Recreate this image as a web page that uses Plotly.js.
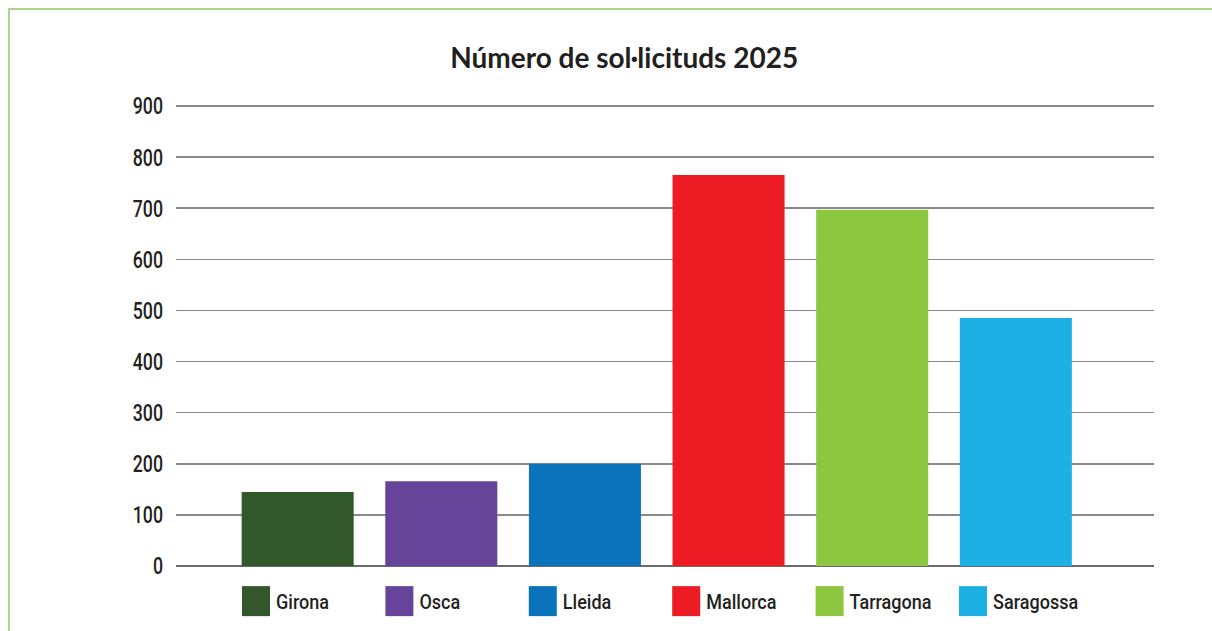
<!DOCTYPE html>
<html>
<head>
<meta charset="utf-8">
<script src="https://cdn.plot.ly/plotly-3.0.1.min.js"></script>
<style>
  html, body { margin: 0; padding: 0; background: #fff; width: 1212px; height: 631px; overflow: hidden; }
  #frame { position: absolute; left: 8px; top: 8px; width: 1204px; height: 623px; border-left: 2px solid #a8d98a; border-top: 2px solid #a8d98a; box-sizing: border-box; }
  #chart { position: absolute; left: 0; top: 0; width: 1212px; height: 631px; }
</style>
</head>
<body>
<div id="frame"></div>
<div id="chart"></div>
<script>
const categories = ["Girona", "Osca", "Lleida", "Mallorca", "Tarragona", "Saragossa"];
const values = [145, 166, 200, 765, 697, 485];
const colors = ["#31572a", "#654499", "#0b73bb", "#ed1c24", "#8dc63f", "#1cb0e4"];
const yTicks = [0, 100, 200, 300, 400, 500, 600, 700, 800, 900];
const titleText = "Número de sol·licituds 2025";

const labelFont = "Roboto, 'Liberation Sans', sans-serif";

const traces = categories.map((c, i) => ({
  type: "bar",
  name: c,
  x: [c],
  y: [values[i]],
  width: 0.78,
  marker: { color: colors[i], line: { width: 0 } },
  hoverinfo: "x+y"
}));

const layout = {
  width: 1212,
  height: 631,
  paper_bgcolor: "rgba(0,0,0,0)",
  plot_bgcolor: "rgba(0,0,0,0)",
  margin: { l: 176, r: 58, t: 105, b: 65, pad: 0, autoexpand: false },
  barmode: "overlay",
  title: {
    text: "<b>" + titleText + "</b>",
    font: { family: "Lato, 'Open Sans', sans-serif", size: 28, color: "#231f20" },
    x: 0.515, xref: "container", xanchor: "center",
    y: 1 - 58 / 631, yref: "container", yanchor: "middle"
  },
  xaxis: {
    type: "category",
    categoryorder: "array",
    categoryarray: categories,
    range: [-0.847, 5.962],
    showticklabels: false,
    showgrid: false,
    zeroline: false,
    showline: false,
    ticks: ""
  },
  yaxis: {
    range: [0, 902],
    tickvals: yTicks,
    ticktext: yTicks.map(String),
    showgrid: true,
    gridcolor: "#8a8a8a",
    gridwidth: 1.5,
    zeroline: true,
    zerolinecolor: "#6a6a6a",
    zerolinewidth: 2,
    showline: false,
    ticks: "",
    ticklabelstandoff: 12,
    tickfont: { family: labelFont, size: 24, color: "#231f20", weight: 500 }
  },
  showlegend: true,
  legend: {
    orientation: "h",
    x: (236 - 176) / 978,
    xanchor: "left",
    y: -0.0325,
    yanchor: "top",
    entrywidth: 98.4,
    entrywidthmode: "pixels",
    itemclick: false,
    itemdoubleclick: false,
    font: { family: labelFont, size: 21, color: "#231f20", weight: 500 },
    bgcolor: "rgba(0,0,0,0)",
    borderwidth: 0,
    traceorder: "normal"
  },
  bargap: 0.22
};

function squeeze(el, sx) {
  const x = parseFloat(el.getAttribute("x") || 0);
  const y = parseFloat(el.getAttribute("y") || 0);
  const prev = el.getAttribute("transform") || "";
  el.setAttribute("transform", prev + " translate(" + x + "," + y + ") scale(" + sx + ",1) translate(" + (-x) + "," + (-y) + ")");
}

Plotly.newPlot("chart", traces, layout, { displayModeBar: false, staticPlot: true }).then(gd => {
  // enlarge legend swatches to match the reference's big squares
  gd.querySelectorAll(".legend .legendpoints path").forEach(p => {
    p.setAttribute("d", "M14,15H-14V-15H14Z");
  });
  // condensed look of the reference labels
  gd.querySelectorAll(".ytick text").forEach(t => squeeze(t, 0.74));
  gd.querySelectorAll(".legend text.legendtext").forEach(t => squeeze(t, 0.86));
});
</script>
</body>
</html>
